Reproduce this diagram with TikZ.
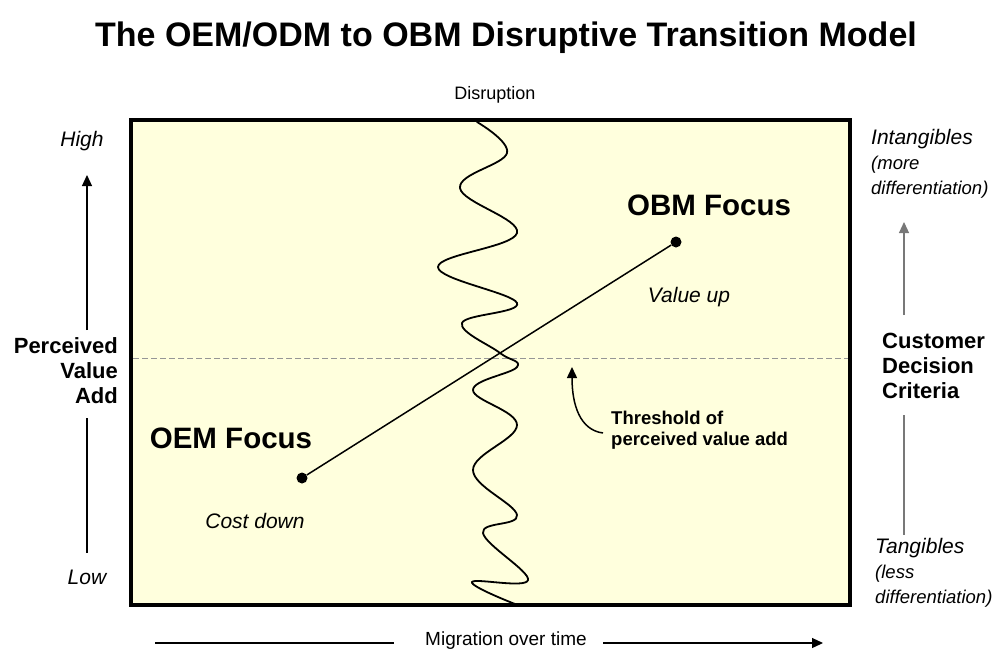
\documentclass[tikz,border=0pt]{standalone}
\usepackage{fontspec}
\setmainfont{Liberation Sans}
\usetikzlibrary{arrows.meta}
\definecolor{panelfill}{RGB}{255,255,221}
\definecolor{threshgray}{RGB}{150,150,150}
\definecolor{axisgray}{RGB}{120,120,120}
\tikzset{
  lbl/.style={inner sep=0pt, font=\fontsize{18}{23}\selectfont},
  iblbl/.style={lbl, font=\fontsize{21}{25}\selectfont\itshape},
  blbl/.style={inner sep=0pt, font=\fontsize{22}{25}\selectfont\bfseries},
  focus/.style={inner sep=0pt, font=\fontsize{29.5}{32}\selectfont\bfseries},
  tip/.style={-{Triangle[length=11pt,width=10pt]}},
  dot/.style={circle, fill=black, inner sep=0pt, minimum size=11pt}
}
\begin{document}
\begin{tikzpicture}[x=1pt,y=-1pt]
\useasboundingbox (0,0) rectangle (995,657);

% title and top label
\node[inner sep=0pt, font=\fontsize{34}{38}\selectfont\bfseries] (title) at (506,38) {The OEM/ODM to OBM Disruptive Transition Model};
\node[lbl] (disr) at (495,95) {Disruption};

% panel
\coordinate (bnw) at (131,120);
\coordinate (bse) at (850,605);
\fill[panelfill] (bnw) rectangle (bse);

% threshold line
\coordinate (thl) at (133,358);
\coordinate (thr) at (848,358);
\draw[threshgray, line width=1pt, dash pattern=on 6pt off 3pt] (thl) -- (thr);

% disruption wave
\draw[line width=1.8pt, line cap=round] plot[smooth, tension=0.65] coordinates {
  (477,122) (507,153) (460,188) (517,233) (438,267) (517,303) (462,323)
  (500,353) (517,367) (473,390) (517,425) (473,470) (517,515) (483,533)
  (528,580) (472,582) (515,604)};

% migration path
\node[dot] (oem) at (302,478) {};
\node[dot] (obm) at (676,242) {};
\draw[line width=1.5pt] (oem) -- (obm);

% panel border
\draw[line width=4pt] (bnw) rectangle (bse);

% focus labels
\node[focus] (obmlbl) at (709,205) {OBM Focus};
\node[focus] (oemlbl) at (231,438) {OEM Focus};
\node[iblbl] (vup) at (689,297) {Value up};
\node[iblbl] (cdown) at (255,521) {Cost down};

% threshold note
\node[inner sep=0pt, anchor=west, align=left, font=\fontsize{18.5}{21}\selectfont\bfseries] (thtxt) at (611,430) {Threshold of\\perceived value add};
\coordinate (thtail) at (603,433);
\coordinate (thtip) at (572,367);
\draw[tip, line width=1.5pt] (thtail) .. controls (580,430) and (572,405) .. (thtip);

% left axis
\node[iblbl] (high) at (82,141) {High};
\node[iblbl] (low) at (87,577) {Low};
\node[blbl, anchor=east, align=right] (pva) at (118,371) {Perceived\\Value\\Add};
\coordinate (la1) at (87,330);
\coordinate (la2) at (87,175);
\coordinate (lb1) at (87,418);
\coordinate (lb2) at (87,553);
\draw[tip, line width=1.2pt] (la1) -- (la2);
\draw[line width=1.2pt] (lb1) -- (lb2);

% right axis
\node[iblbl, anchor=west, align=left] (intang) at (871,164) {Intangibles\\{\fontsize{18.5}{22}\selectfont(more}\\{\fontsize{18.5}{22}\selectfont differentiation)}};
\node[blbl, anchor=west, align=left] (cdc) at (882,366) {Customer\\Decision\\Criteria};
\node[iblbl, anchor=west, align=left] (tang) at (875,573) {Tangibles\\{\fontsize{18.5}{25}\selectfont(less}\\{\fontsize{18.5}{25}\selectfont differentiation)}};
\coordinate (ra1) at (904,315);
\coordinate (ra2) at (904,222);
\coordinate (rb1) at (904,415);
\coordinate (rb2) at (904,535);
\draw[axisgray, line width=1.2pt] (ra1) -- (904,232);
\draw[tip, line width=1.2pt, draw=axisgray, fill=black] (904,231) -- (ra2);
\draw[axisgray, line width=1.2pt] (rb1) -- (rb2);

% time axis
\node[lbl, font=\fontsize{19}{23}\selectfont] (mig) at (506,641) {Migration over time};
\coordinate (ta1) at (155,643);
\coordinate (ta2) at (394,643);
\coordinate (tb1) at (603,643);
\coordinate (tb2) at (823,643);
\draw[line width=1.2pt] (ta1) -- (ta2);
\draw[tip, line width=1.2pt] (tb1) -- (tb2);
\end{tikzpicture}
\end{document}
